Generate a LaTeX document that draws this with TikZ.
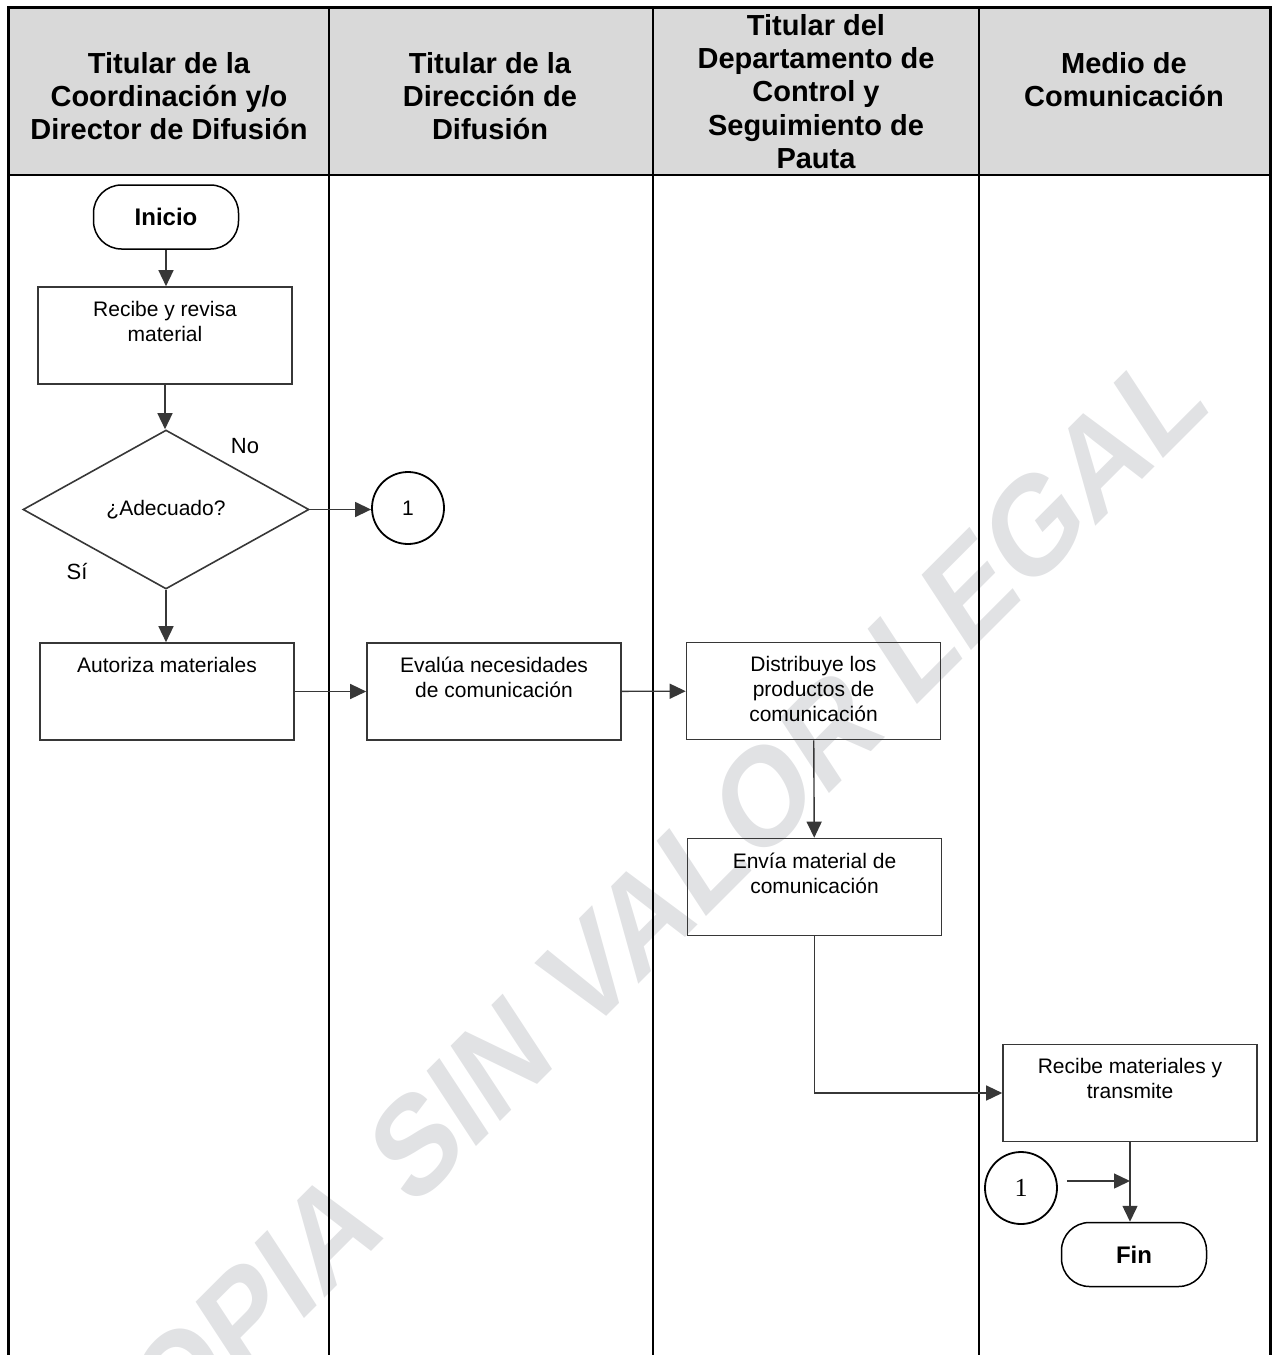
\documentclass[tikz,border=0pt]{standalone}
\usepackage{fontspec}
\setmainfont{Liberation Sans}
\newfontfamily\romanfont{Liberation Serif}
\usetikzlibrary{shapes}
\usetikzlibrary{arrows.meta}
\usetikzlibrary{positioning}

\definecolor{cabecera}{RGB}{217,217,217}
\definecolor{marca}{RGB}{225,226,228}
\definecolor{trazo}{RGB}{55,55,55}

\begin{document}
\begin{tikzpicture}[x=1pt,y=-1pt,
  caja/.style={draw=trazo,line width=1.6pt,minimum width=254pt,minimum height=97pt,inner sep=0pt},
  texto/.style={inner sep=0pt,align=center,font=\fontsize{21}{25}\selectfont},
  titulo/.style={inner sep=0pt,align=center,anchor=north,font=\fontsize{29}{33.3}\selectfont\bfseries},
  terminal/.style={draw,line width=1.5pt,rounded corners=28pt,minimum width=145pt,minimum height=64pt,font=\fontsize{24}{28}\selectfont\bfseries},
  decision/.style={diamond,draw=trazo,line width=1.6pt,minimum width=286pt,minimum height=159pt,inner sep=0pt,font=\fontsize{21}{25}\selectfont},
  conector/.style={circle,draw,line width=1.8pt,minimum size=72pt,inner sep=0pt},
  flecha/.style={draw=trazo,line width=1.4pt,-{Triangle[length=16pt,width=15pt]}}]
  \useasboundingbox (0,0) rectangle (1275,1355);

  % marca de agua
  \begin{scope}
    \clip (0,0) rectangle (1275,1355);
    \node[anchor=base west,inner sep=0pt,text=marca,font=\fontsize{114}{120}\selectfont\bfseries,yscale=1.236,rotate=39] (marca) at (106,1517) {COPIA SIN VALOR LEGAL};
  \end{scope}

  % carriles
  \fill[cabecera] (8,7) rectangle (1270,175);
  \draw[line width=3pt] (8,1355) -- (8,7) -- (1270,7) -- (1270,1355);
  \draw[line width=2.6pt] (8,175) -- (1270,175);
  \foreach \x in {329,653,979}
    \draw[line width=2.2pt] (\x,7) -- (\x,1355);

  \node[titulo] (t1) at (169,52) {Titular de la\\Coordinación y/o\\Director de Difusión};
  \node[titulo] (t2) at (490,52) {Titular de la\\Dirección de\\Difusión};
  \node[titulo] (t3) at (816,14) {Titular del\\Departamento de\\Control y\\Seguimiento de\\Pauta};
  \node[titulo] (t4) at (1124,52) {Medio de\\Comunicación};

  % nodos
  \node[terminal] (inicio) at (166,217) {Inicio};
  \node[caja] (recibe) at (165,335.5) {};
  \node[texto,below=14.7pt of recibe.north] (recibe-t) {Recibe y revisa\\material};
  \node[decision] (adecuado) at (166,509.5) {¿Adecuado?};
  \node[conector,font=\fontsize{21}{25}\selectfont] (uno) at (408,508) {1};
  \node[inner sep=0pt,font=\fontsize{22}{26}\selectfont] (no) at (245,446) {No};
  \node[inner sep=0pt,font=\fontsize{22}{26}\selectfont] (si) at (77,571) {Sí};

  \node[caja] (autoriza) at (167,691.5) {};
  \node[texto,below=14.7pt of autoriza.north] (autoriza-t) {Autoriza materiales};
  \node[caja] (evalua) at (494,691.5) {};
  \node[texto,below=14.7pt of evalua.north] (evalua-t) {Evalúa necesidades\\de comunicación};
  \node[caja] (distribuye) at (813.5,691) {};
  \node[texto,below=14.7pt of distribuye.north] (distribuye-t) {Distribuye los\\productos de\\comunicación};
  \node[caja] (envia) at (814.5,887) {};
  \node[texto,below=14.7pt of envia.north] (envia-t) {Envía material de\\comunicación};
  \node[caja] (recibemat) at (1130,1093) {};
  \node[texto,below=14.7pt of recibemat.north] (recibemat-t) {Recibe materiales y\\transmite};

  \node[terminal] (fin) at (1134,1254.5) {Fin};
  \node[conector,font=\romanfont\fontsize{26}{28}\selectfont] (unob) at (1021,1188) {1};
  \coordinate (union) at (1130,1181);

  % flechas
  \draw[flecha] (inicio.south) -- (inicio.south |- recibe.north);
  \draw[flecha] (recibe.south) -- (recibe.south |- adecuado.north);
  \draw[flecha] (adecuado.east) -- (uno.west |- adecuado.east);
  \draw[flecha] (adecuado.south) -- (adecuado.south |- autoriza.north);
  \draw[flecha] (autoriza) -- (evalua);
  \draw[flecha] (evalua) -- (distribuye);
  \draw[flecha] (distribuye) -- (envia);
  \draw[flecha] (envia) |- (recibemat);
  \draw[flecha] (recibemat.south) -- (recibemat.south |- fin.north);
  \draw[flecha] ([xshift=9pt,yshift=7pt]unob.east) -- (union);
\end{tikzpicture}
\end{document}
